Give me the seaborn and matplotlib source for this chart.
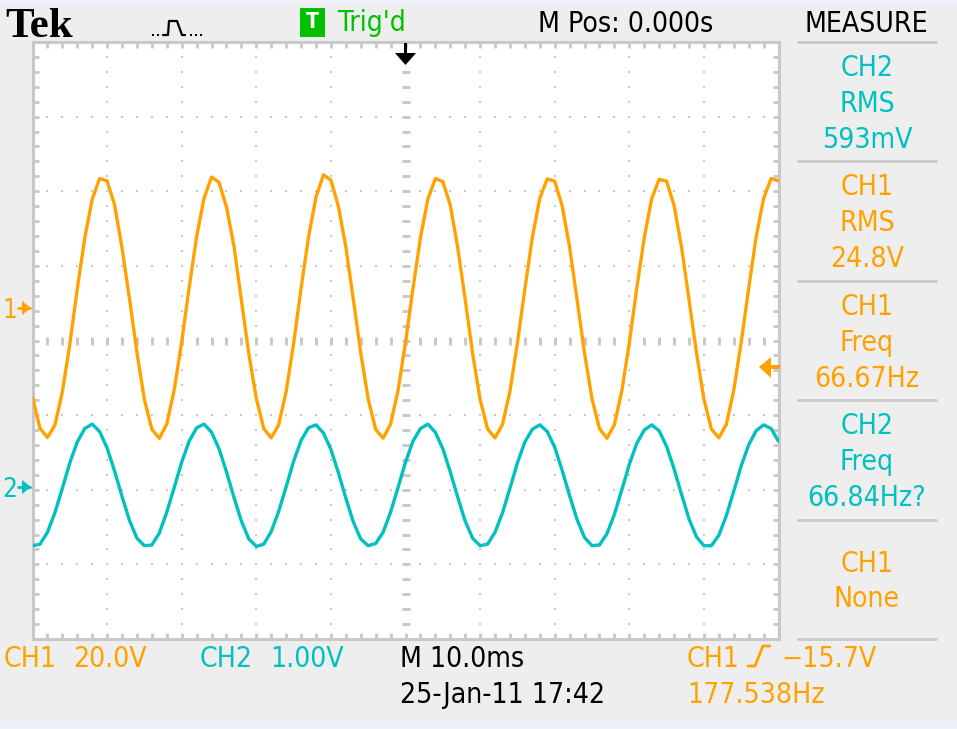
import matplotlib
matplotlib.use("Agg")
import matplotlib.pyplot as plt
from matplotlib import font_manager as fm
from matplotlib.patches import Rectangle, Polygon
from matplotlib.lines import Line2D
import numpy as np
import pandas as pd
import seaborn as sns

# ---------------- data ----------------
TIME_MS = list(range(-50, 51))  # sample instants, 1 ms apart, screen centre = 0

CH1_VOLTS = [
    -24.0, -32.3, -34.8, -31.5, -22.6, -9.8, 5.0, 18.6, 29.0, 34.6, 34.0, 27.6, 16.0, 2.4, -12.0,
    -24.6, -32.6, -35.0, -31.2, -22.0, -9.2, 5.4, 19.0, 29.4, 35.0, 33.6, 27.0, 16.6, 2.0, -12.4,
    -24.3, -32.4, -34.9, -31.4, -22.5, -9.6, 5.2, 18.9, 29.6, 35.6, 34.2, 27.2, 16.3, 2.3, -12.1,
    -24.5, -32.6, -35.0, -31.2, -22.2, -9.3, 5.1, 18.7, 29.1, 34.6, 33.8, 27.5, 16.1, 2.2, -12.3,
    -24.6, -32.5, -34.9, -31.3, -22.4, -9.5, 5.0, 18.8, 29.3, 34.5, 33.9, 27.3, 16.2, 2.1, -12.2,
    -24.4, -32.4, -35.0, -31.4, -22.3, -9.4, 5.2, 18.7, 29.2, 34.4, 33.9, 27.4, 16.3, 2.2, -12.0,
    -24.5, -32.5, -34.9, -31.3, -22.2, -9.3, 5.1, 18.9, 29.2, 34.6, 34.0,
]
CH2_VOLTS = [
    -0.80, -0.78, -0.62, -0.36, -0.03, 0.31, 0.59, 0.77, 0.83, 0.73, 0.51, 0.20, -0.14, -0.46, -0.70,
    -0.80, -0.79, -0.63, -0.35, -0.02, 0.32, 0.60, 0.78, 0.83, 0.72, 0.50, 0.19, -0.15, -0.47, -0.71,
    -0.81, -0.78, -0.61, -0.34, -0.01, 0.33, 0.61, 0.78, 0.82, 0.71, 0.49, 0.18, -0.16, -0.48, -0.71,
    -0.80, -0.77, -0.62, -0.35, -0.02, 0.32, 0.60, 0.77, 0.83, 0.72, 0.50, 0.19, -0.15, -0.47, -0.70,
    -0.80, -0.78, -0.62, -0.36, -0.03, 0.31, 0.59, 0.76, 0.82, 0.73, 0.52, 0.21, -0.13, -0.45, -0.69,
    -0.80, -0.79, -0.64, -0.38, -0.05, 0.29, 0.57, 0.75, 0.82, 0.74, 0.53, 0.23, -0.11, -0.44, -0.68,
    -0.80, -0.80, -0.66, -0.40, -0.07, 0.27, 0.55, 0.74, 0.82, 0.77, 0.60,
]
CH1_VOLTS_PER_DIV = 20.0
CH2_VOLTS_PER_DIV = 1.0
TRIG_LEVEL_V = -15.7

HEADER_BRAND = "Tek"
HEADER_TRIG = "Trig'd"
HEADER_MPOS = "M Pos: 0.000s"
HEADER_MEASURE = "MEASURE"
MEASURE_PANELS = [
    ("CH2", ["CH2", "RMS", "593mV"]),
    ("CH1", ["CH1", "RMS", "24.8V"]),
    ("CH1", ["CH1", "Freq", "66.67Hz"]),
    ("CH2", ["CH2", "Freq", "66.84Hz?"]),
    ("CH1", ["CH1", "None"]),
]
FOOT_CH1 = ("CH1", "20.0V")
FOOT_CH2 = ("CH2", "1.00V")
FOOT_TIMEBASE = "M 10.0ms"
FOOT_DATE = "25-Jan-11 17:42"
FOOT_TRIG = ("CH1", "\u221215.7V")
FOOT_TRIGFREQ = "177.538Hz"

# ---------------- style ----------------
ORANGE = "#FFA200"
CYAN = "#00C0C0"
GREEN = "#00C000"
GRID = "#C8C8C8"
BG = "#EEEEEE"
STRIPE = "#EDF1F9"

CH1_OFFSET_DIV = 0.44
CH2_OFFSET_DIV = -1.95

W, H = 957, 729

sns.set_theme(style="white")
entries = fm.fontManager.ttflist
avail = {f.name for f in entries}
has_condensed = any(f.name == "DejaVu Sans" and ("ondensed" in str(f.stretch) or "Condensed" in f.fname)
                    for f in entries)
if "Liberation Sans Narrow" in avail:
    FAM, STRETCH, TXT = ["Liberation Sans Narrow", "DejaVu Sans"], "normal", 22.0
elif has_condensed:
    FAM, STRETCH, TXT = ["DejaVu Sans", "DejaVu Sans"], "condensed", 20.3
else:
    FAM, STRETCH, TXT = ["DejaVu Sans"], "normal", 18.5
SERIF = "Liberation Serif" if "Liberation Serif" in avail else "DejaVu Serif"
plt.rcParams["font.family"] = FAM
plt.rcParams["font.stretch"] = STRETCH

fig = plt.figure(figsize=(W / 100, H / 100), dpi=100, facecolor=BG)


def fx(x):
    return x / W


def fy(y):
    return 1 - y / H


def label(xp, yp, s, col, size=None, ha="left", **kw):
    fig.text(fx(xp), fy(yp), s, color=col, size=size or TXT, ha=ha, va="baseline",
             fontstretch=STRETCH, **kw)


# light stripes at top and bottom of the screenshot
fig.add_artist(Rectangle((0, fy(5)), 1, 5 / H, transform=fig.transFigure, color=STRIPE, lw=0))
fig.add_artist(Rectangle((0, 0), 1, 7 / H, transform=fig.transFigure, color=STRIPE, lw=0))

# graticule axes
ax = fig.add_axes([fx(32.5), fy(639), (778.5 - 32.5) / W, (639 - 42) / H])
ax.set_facecolor("white")
ax.set_xlim(-50, 50)
ax.set_ylim(-4, 4)
for s in ax.spines.values():
    s.set_color(GRID)
    s.set_linewidth(2.2)
ax.set_xticks(np.arange(-50, 50.01, 2))
ax.set_yticks(np.arange(-4, 4.01, 0.2))
ax.tick_params(which="both", direction="in", length=4.2, width=2.0, color=GRID,
               top=True, right=True, bottom=True, left=True,
               labelbottom=False, labelleft=False, labeltop=False, labelright=False)

# dotted graticule lines
minor_y = np.arange(-3.8, 3.81, 0.2)
minor_x = np.arange(-48, 48.1, 2)
for gx in [-40, -30, -20, -10, 10, 20, 30, 40]:
    ax.plot([gx] * len(minor_y), minor_y, ls="none", marker="s", ms=2.0, mew=0, color=GRID, zorder=1)
for gy in [-3, -2, -1, 1, 2, 3]:
    ax.plot(minor_x, [gy] * len(minor_x), ls="none", marker="s", ms=2.0, mew=0, color=GRID, zorder=1)
# centre lines with longer marks
ax.plot(minor_x, [0] * len(minor_x), ls="none", marker="|", ms=5.6, mew=2.1, color=GRID, zorder=1)
ax.plot([0] * len(minor_y), minor_y, ls="none", marker="_", ms=6.4, mew=2.1, color=GRID, zorder=1)

# waveforms
df = pd.concat([
    pd.DataFrame({"t": TIME_MS, "div": np.array(CH1_VOLTS) / CH1_VOLTS_PER_DIV + CH1_OFFSET_DIV, "ch": "CH1"}),
    pd.DataFrame({"t": TIME_MS, "div": np.array(CH2_VOLTS) / CH2_VOLTS_PER_DIV + CH2_OFFSET_DIV, "ch": "CH2"}),
])
sns.lineplot(data=df, x="t", y="div", hue="ch", palette={"CH1": ORANGE, "CH2": CYAN},
             estimator=None, linewidth=2.4, legend=False, ax=ax, zorder=3)
ax.set_xlabel("")
ax.set_ylabel("")

# ---------------- header ----------------
fig.text(fx(5), fy(37), HEADER_BRAND, family=[SERIF, "DejaVu Serif"], weight="bold", size=31,
         color="black", va="baseline", ha="left")
# acquisition icon
fig.add_artist(Line2D([fx(163), fx(168), fx(169), fx(177), fx(182), fx(185)],
                      [fy(35), fy(35), fy(21), fy(21), fy(35), fy(35)],
                      transform=fig.transFigure, color="black", lw=1.6))
for dx in [152, 157, 190, 195, 200]:
    fig.add_artist(Rectangle((fx(dx), fy(36)), 2 / W, 2 / H, transform=fig.transFigure, color="black", lw=0))
# trigger status
fig.add_artist(Rectangle((fx(300), fy(37)), 25 / W, 29 / H, transform=fig.transFigure, color=GREEN, lw=0))
fig.text(fx(312.5), fy(22.5), "T", color="white", weight="bold", size=TXT * 0.75, ha="center",
         va="center", fontstretch=STRETCH)
label(338, 31, HEADER_TRIG, GREEN)
label(538, 32, HEADER_MPOS, "black")
label(866, 32, HEADER_MEASURE, "black", ha="center")

# trigger position arrow (top centre)
fig.add_artist(Polygon([(fx(404), fy(43)), (fx(407), fy(43)), (fx(407), fy(53)), (fx(416), fy(53)),
                        (fx(405.5), fy(65)), (fx(395), fy(53)), (fx(404), fy(53))],
                       closed=True, transform=fig.transFigure, color="black", lw=0, zorder=5))
# trigger level arrow (right edge)
fig.add_artist(Polygon([(fx(759), fy(367)), (fx(771), fy(357)), (fx(771), fy(365)), (fx(780), fy(365)),
                        (fx(780), fy(369)), (fx(771), fy(369)), (fx(771), fy(378))],
                       closed=True, transform=fig.transFigure, color=ORANGE, lw=0, zorder=5))

# channel ground markers (left)
for lab, ypix, col in [("1", 308, ORANGE), ("2", 487, CYAN)]:
    label(2, ypix + 10, lab, col, size=TXT * 0.92)
    fig.add_artist(Polygon([(fx(22), fy(ypix - 7)), (fx(31), fy(ypix)), (fx(22), fy(ypix + 7))],
                           closed=True, transform=fig.transFigure, color=col, lw=0, zorder=5))
    fig.add_artist(Line2D([fx(18), fx(30)], [fy(ypix), fy(ypix)], transform=fig.transFigure,
                          color=col, lw=2.0, zorder=5))

# ---------------- measurement panel ----------------
SEP_Y = [42, 161, 281, 400, 520, 639]
for sy in SEP_Y:
    fig.add_artist(Line2D([fx(798), fx(936)], [fy(sy), fy(sy)], transform=fig.transFigure,
                          color=GRID, lw=2.0))
for i, (ch, lines) in enumerate(MEASURE_PANELS):
    col = ORANGE if ch == "CH1" else CYAN
    top = SEP_Y[i]
    base = [34, 70, 106] if len(lines) == 3 else [52, 87]
    for ln, b in zip(lines, base):
        label(867, top + b, ln, col, ha="center")

# ---------------- footer ----------------
label(4, 667, FOOT_CH1[0], ORANGE)
label(73, 667, FOOT_CH1[1], ORANGE)
label(200, 667, FOOT_CH2[0], CYAN)
label(270, 667, FOOT_CH2[1], CYAN)
label(400, 667, FOOT_TIMEBASE, "black")
label(400, 703, FOOT_DATE, "black")
label(687, 667, FOOT_TRIG[0], ORANGE)
fig.add_artist(Line2D([fx(748), fx(755), fx(763), fx(770)], [fy(666), fy(666), fy(646), fy(646)],
                      transform=fig.transFigure, color=ORANGE, lw=2.0))
label(781, 667, FOOT_TRIG[1], ORANGE)
label(687, 703, FOOT_TRIGFREQ, ORANGE)

fig.savefig("out.png", dpi=100, facecolor=BG)
